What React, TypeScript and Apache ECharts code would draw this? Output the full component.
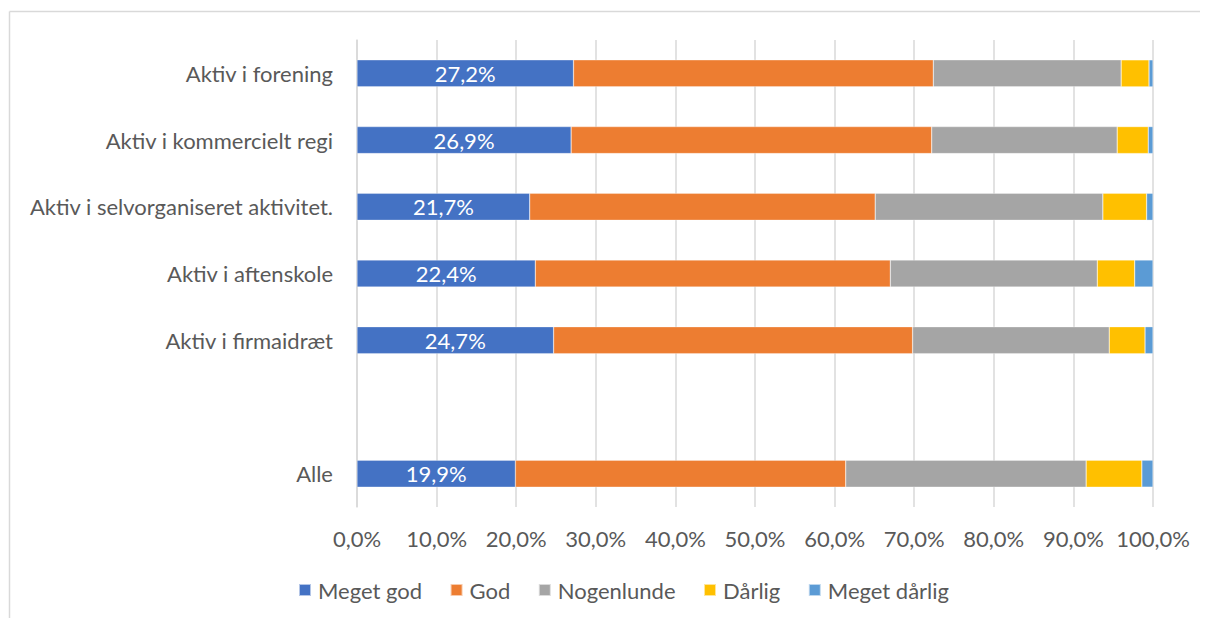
import React, { useEffect, useRef } from "react";
import * as echarts from "echarts";

const categories = [
  "Aktiv i forening",
  "Aktiv i kommercielt regi",
  "Aktiv i selvorganiseret aktivitet.",
  "Aktiv i aftenskole",
  "Aktiv i firmaidræt",
  "",
  "Alle",
];

const seriesNames = ["Meget god", "God", "Nogenlunde", "Dårlig", "Meget dårlig"];
const colors = ["#4472C4", "#ED7D31", "#A5A5A5", "#FFC000", "#5B9BD5"];

const megetGod = [27.2, 26.9, 21.7, 22.4, 24.7, null, 19.9];
const god = [45.2, 45.3, 43.4, 44.6, 45.1, null, 41.5];
const nogenlunde = [23.6, 23.3, 28.6, 26.0, 24.7, null, 30.2];
const daarlig = [3.5, 3.9, 5.5, 4.7, 4.5, null, 7.0];
const megetDaarlig = [0.5, 0.6, 0.8, 2.3, 1.0, null, 1.4];

const seriesData = [megetGod, god, nogenlunde, daarlig, megetDaarlig];

const FONT = "Lato, 'Open Sans', sans-serif";
const TEXT = "#595959";
const FS = 22;

export default function App() {
  const ref = useRef<HTMLDivElement>(null);
  useEffect(() => {
    if (!ref.current) return;
    const chart = echarts.init(ref.current, null, { renderer: "svg" });
    chart.setOption({
      animation: false,
      textStyle: { fontFamily: FONT },
      graphic: [
        {
          type: "line",
          shape: { x1: 1.5, y1: 3.5, x2: 1.5, y2: 700 },
          style: { stroke: "#d9d9d9", lineWidth: 1.5 },
          silent: true,
        },
        {
          type: "line",
          shape: { x1: 1.5, y1: 3.5, x2: 1192, y2: 3.5 },
          style: { stroke: "#d9d9d9", lineWidth: 1.5 },
          silent: true,
        },
      ],
      grid: { left: 349, right: 47, top: 32, bottom: 111, containLabel: false },
      legend: {
        data: seriesNames,
        top: 566,
        left: 285,
        itemWidth: 12,
        itemHeight: 12,
        itemGap: 27.5,
        icon: "rect",
        textStyle: { color: TEXT, fontSize: FS, fontFamily: FONT, padding: [0, 0, 0, 2] },
      },
      xAxis: {
        type: "value",
        min: 0,
        max: 100,
        interval: 10,
        axisLine: { show: false },
        axisTick: { show: false },
        splitLine: { show: true, lineStyle: { color: "#d9d9d9", width: 1.5 } },
        axisLabel: {
          color: TEXT,
          fontSize: FS,
          fontFamily: FONT,
          margin: 20,
          formatter: (v: number) => v.toFixed(1).replace(".", ",") + "%",
        },
      },
      yAxis: {
        type: "category",
        data: categories,
        inverse: true,
        axisLine: { show: true, lineStyle: { color: "#d9d9d9", width: 1.5 } },
        axisTick: { show: false },
        axisLabel: { color: TEXT, fontSize: FS, fontFamily: FONT, margin: 24 },
      },
      series: seriesNames.map((name, i) => ({
        name,
        type: "bar",
        stack: "total",
        barWidth: 27,
        data: seriesData[i],
        itemStyle: { color: colors[i], borderColor: "rgba(255,255,255,0.6)", borderWidth: 0.5 },
        label:
          i === 0
            ? {
                show: true,
                position: "inside",
                color: "#ffffff",
                fontSize: FS,
                fontFamily: FONT,
                formatter: (p: any) => p.value.toFixed(1).replace(".", ",") + "%",
              }
            : { show: false },
      })),
    });
    return () => chart.dispose();
  }, []);
  return <div ref={ref} style={{ width: 1192, height: 610 }} />;
}
